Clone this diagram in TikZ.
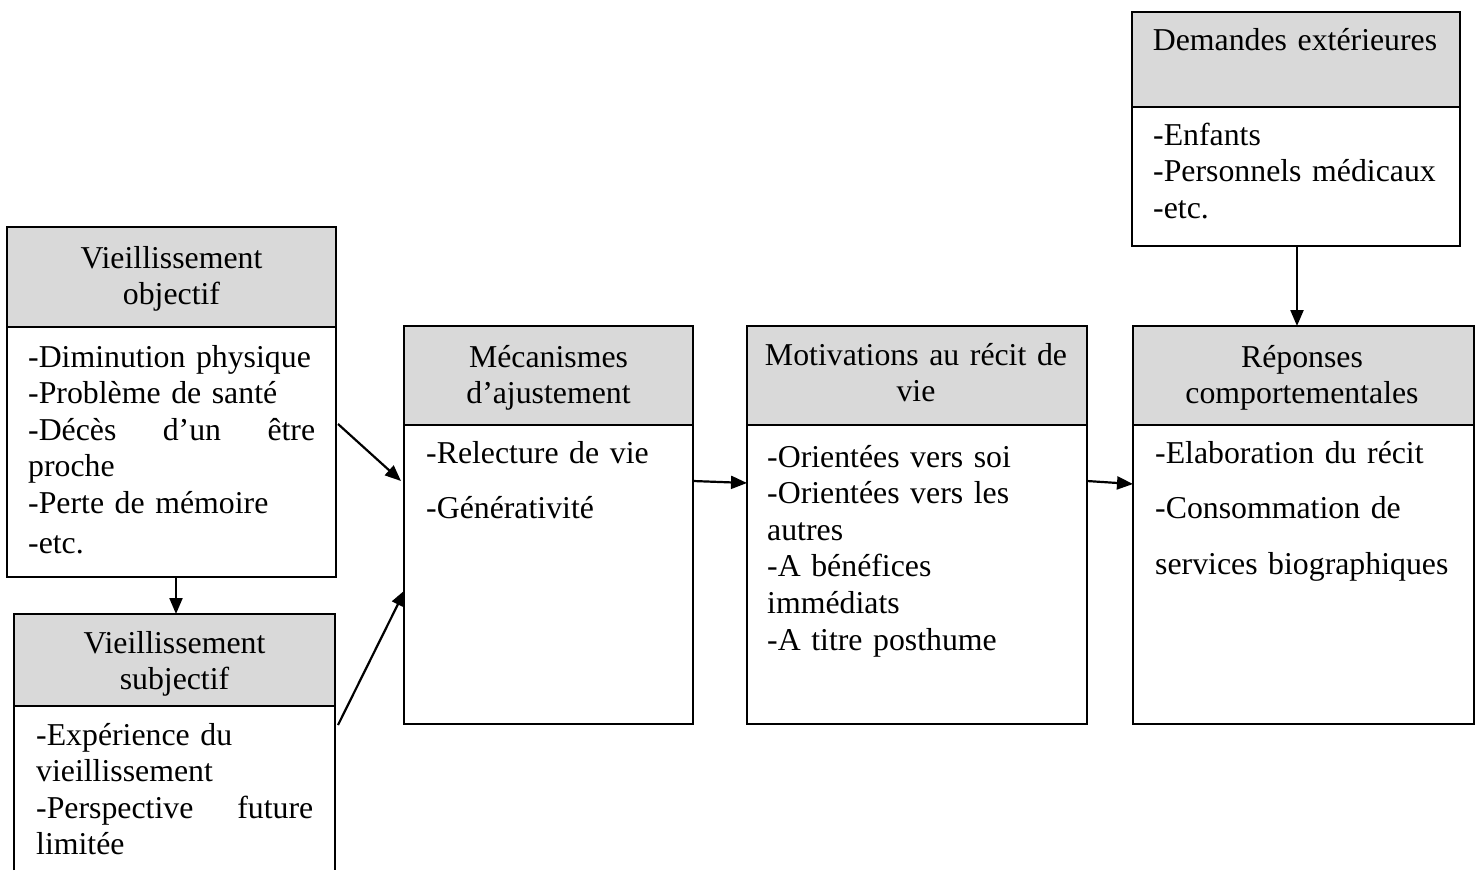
\documentclass[tikz,border=0pt]{standalone}
\usepackage{fontspec}
\setmainfont{Liberation Serif}
\usetikzlibrary{arrows.meta,calc}
\definecolor{hdrgray}{HTML}{D9D9D9}
\begin{document}
\begin{tikzpicture}[x=1pt,y=-1pt,
  boxpart/.style={draw=black,line width=1.8pt,anchor=north west,inner sep=0pt,outer sep=0pt},
  hdr/.style={boxpart,fill=hdrgray},
  bdy/.style={boxpart,fill=white},
  ttl/.style={anchor=base,inner sep=0pt,align=center,font=\fontsize{31.8}{36.6}\selectfont},
  lst/.style={anchor=base west,inner sep=0pt,align=left,font=\fontsize{31.8}{36.6}\selectfont},
  lstwide/.style={anchor=base west,inner sep=0pt,align=left,font=\fontsize{31.8}{55.8}\selectfont},
  arr/.style={line width=2.2pt,-{Triangle[length=16pt,width=13pt]}}]
\useasboundingbox (0,0) rectangle (1483,870);
% Vieillissement objectif
\node[hdr,minimum width=329pt,minimum height=100pt] (objh) at (7,227) {};
\node[bdy,minimum width=329pt,minimum height=250pt] (objb) at (7,327) {};
\node[ttl,text width=320pt] (objt) at (171.5,268) {Vieillissement\\objectif};
\node[lst,text width=290pt] (objl) at (28,367) {-Diminution physique\\-Problème de santé\\\leavevmode\hbox to 287pt{-Décès\hfill d’un\hfill être}\\proche\\-Perte de mémoire\\[3pt]-etc.};
% Vieillissement subjectif
\node[hdr,minimum width=321pt,minimum height=92pt] (subjh) at (14,614) {};
\node[boxpart,draw=none,fill=white,minimum width=321pt,minimum height=164pt] (subjb) at (14,706) {};
\draw[line width=1.8pt] (subjb.south west) -- (subjb.north west) -- (subjb.north east) -- (subjb.south east);
\node[ttl,text width=320pt] (subjt) at (174.5,653) {Vieillissement\\subjectif};
\node[lst,text width=280pt] (subjl) at (36,745) {-Expérience du\\vieillissement\\\leavevmode\hbox to 277pt{-Perspective\hfill future}\\limitée};
% Mecanismes
\node[hdr,minimum width=289pt,minimum height=99pt] (mech) at (404,326) {};
\node[bdy,minimum width=289pt,minimum height=299pt] (mecb) at (404,425) {};
\node[ttl,text width=280pt] (mect) at (548.5,367) {Mécanismes\\d’ajustement};
\node[lstwide,text width=250pt] (mecl) at (426,463) {-Relecture de vie\\-Générativité};
% Motivations
\node[hdr,minimum width=340pt,minimum height=99pt] (moth) at (747,326) {};
\node[bdy,minimum width=340pt,minimum height=299pt] (motb) at (747,425) {};
\node[ttl,text width=335pt] (mott) at (916,365) {Motivations au récit de\\vie};
\node[lst,text width=300pt] (motl) at (767,467) {-Orientées vers soi\\-Orientées vers les\\autres\\-A bénéfices\\immédiats\\-A titre posthume};
% Reponses
\node[hdr,minimum width=341pt,minimum height=99pt] (reph) at (1133,326) {};
\node[bdy,minimum width=341pt,minimum height=299pt] (repb) at (1133,425) {};
\node[ttl,text width=335pt] (rept) at (1302,367) {Réponses\\comportementales};
\node[lstwide,text width=315pt] (repl) at (1155,463) {-Elaboration du récit\\-Consommation de\\services biographiques};
% Demandes exterieures
\node[hdr,minimum width=328pt,minimum height=95pt] (demh) at (1132,12) {};
\node[bdy,minimum width=328pt,minimum height=139pt] (demb) at (1132,107) {};
\node[ttl,text width=325pt] (demt) at (1295,50) {Demandes extérieures};
\node[lst,text width=300pt] (deml) at (1153,145) {-Enfants\\-Personnels médicaux\\-etc.};
% connectors
\coordinate (oa) at ([xshift=4.5pt]objb.south);
\draw[arr] (oa) -- (oa |- subjh.north);
\draw[arr] ($(objb.north east)+(2,97)$) -- ($(mecb.north west)+(-3,56)$);
\draw[arr] ($(subjb.north east)+(3,19)$) -- ($(mecb.north west)+(1,165)$);
\draw[arr] ($(mecb.north east)+(0,56)$) -- ($(motb.north west)+(0,58)$);
\draw[arr] ($(motb.north east)+(0,56)$) -- ($(repb.north west)+(0,59)$);
\coordinate (da) at ([xshift=1pt]demb.south);
\draw[arr] (da) -- (da |- reph.north);
\end{tikzpicture}
\end{document}
